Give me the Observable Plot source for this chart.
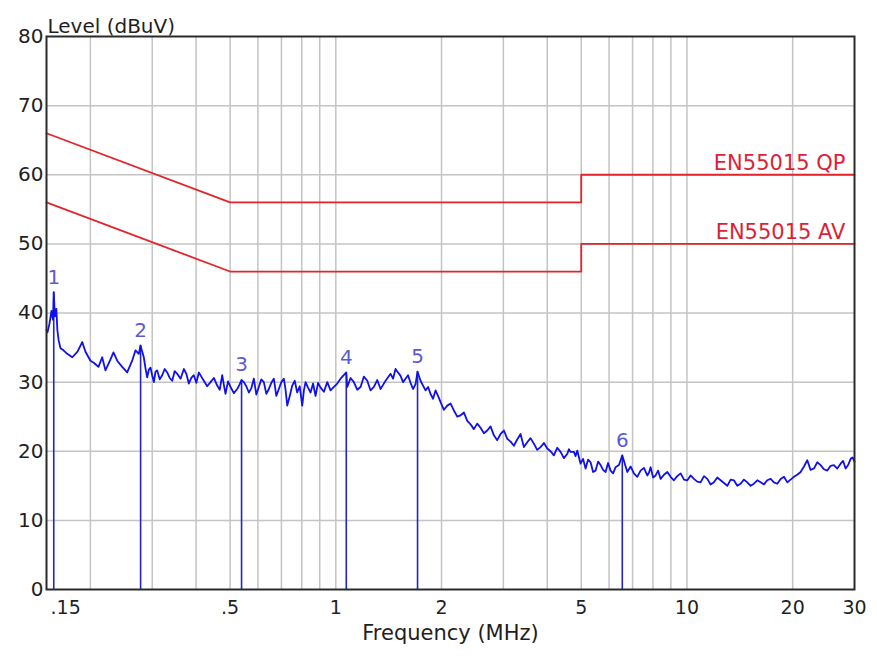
<!DOCTYPE html>
<html>
<head>
<meta charset="utf-8">
<script src="https://cdn.jsdelivr.net/npm/d3@7"></script>
<script src="https://cdn.jsdelivr.net/npm/@observablehq/plot@0.6"></script>
<style>
  html, body { margin: 0; padding: 0; background: #fff; }
  #chart { width: 877px; height: 656px; }
</style>
</head>
<body>
<div id="chart"></div>
<script>
// ---- Data ----
const yTicks = [0, 10, 20, 30, 40, 50, 60, 70, 80];
const xTickValues = [0.5, 1, 2, 5, 10, 20, 30];
const xTickLabels = [".5", "1", "2", "5", "10", "20", "30"];
const xFirstTick = [0.15];
const xFirstLabel = [".15"];
const gridFreqs = [0.2, 0.3, 0.4, 0.5, 0.6, 0.7, 0.8, 0.9, 1, 2, 3, 4, 5, 6, 7, 8, 9, 10, 20];

const limitFreq = [0.15, 0.5, 5, 5, 30];
const qpLevel = [66, 56, 56, 60, 60];
const avLevel = [56, 46, 46, 50, 50];
const limitNames = ["EN55015 QP", "EN55015 AV"];
const limitLabelLevel = [60, 50];

const markerIds = ["1", "2", "3", "4", "5", "6"];
const markerFreq = [0.1573, 0.278, 0.539, 1.071, 1.709, 6.544];
const markerLevel = [43.0, 35.3, 30.3, 31.4, 31.5, 19.4];

// main readings of the measured trace
const traceFreq = [
  0.150, 0.151, 0.153, 0.155, 0.1565, 0.1573, 0.1585, 0.160, 0.1611, 0.1625,
  0.1644, 0.1677, 0.1718, 0.1777, 0.1838, 0.1896, 0.1937, 0.2001, 0.2045, 0.2109,
  0.2161, 0.2208, 0.2282, 0.2327, 0.2385, 0.2464, 0.2546, 0.2631, 0.2689, 0.2748,
  0.2778, 0.2839, 0.2903, 0.2967, 0.3032, 0.3100, 0.3203, 0.3310, 0.3420, 0.3535,
  0.3692, 0.3814, 0.3941, 0.4073, 0.4208, 0.4397, 0.4595, 0.4748, 0.4851, 0.5014,
  0.5239, 0.539, 0.5471, 0.5653, 0.5841, 0.6036, 0.6237, 0.6446, 0.6660, 0.6882,
  0.7112, 0.7273, 0.7515, 0.7764, 0.8024, 0.8200, 0.8473, 0.8757, 0.9048, 0.9455,
  0.9873, 1.0317, 1.071, 1.0779, 1.1256, 1.1762, 1.2291, 1.2834, 1.3412, 1.3858,
  1.4321, 1.4794, 1.5290, 1.5798, 1.6323, 1.6869, 1.709, 1.7430, 1.8013, 1.8612,
  1.9231, 1.9875, 2.0769, 2.1689, 2.2661, 2.3679, 2.4723, 2.5834, 2.6997, 2.8190,
  2.9458, 3.0783, 3.2144, 3.3580, 3.5090, 3.6644, 3.8291, 4.0011, 4.1781, 4.3661,
  4.5614, 4.6612, 4.7643, 4.8710, 4.9776, 5.144, 5.315, 5.493, 5.676, 5.864,
  6.061, 6.262, 6.544, 6.762, 7.061, 7.378, 7.710, 7.879, 8.142, 8.413,
  8.792, 9.181, 9.594, 10.025, 10.468, 10.937, 11.429, 11.934, 12.470, 13.031,
  13.607, 14.216, 14.85, 15.51, 16.21, 16.93, 17.69, 18.48, 19.31, 20.16,
  21.07, 22.01, 22.99, 24.02, 25.10, 26.21, 27.39, 28.30, 29.25, 30.0
];
const traceLevel = [
  37.5, 37.2, 38.5, 40.3, 39.0, 43.0, 39.5, 40.6, 37.5, 36.0,
  34.9, 34.6, 34.1, 33.6, 34.4, 35.8, 34.4, 33.1, 32.8, 32.2,
  33.6, 31.7, 33.3, 34.3, 33.1, 32.2, 31.4, 33.1, 34.6, 34.1,
  35.3, 33.6, 30.7, 32.1, 30.0, 31.7, 31.0, 31.4, 30.2, 31.2,
  31.9, 29.8, 31.0, 31.4, 30.2, 30.0, 29.5, 31.0, 28.3, 29.3,
  29.0, 30.3, 30.0, 28.5, 30.5, 29.3, 30.0, 29.0, 30.5, 29.0,
  30.5, 26.6, 29.5, 28.5, 26.6, 30.0, 28.5, 28.0, 29.2, 30.0,
  29.3, 30.5, 31.4, 29.3, 30.0, 29.3, 30.2, 29.3, 29.0, 30.2,
  31.2, 31.9, 30.9, 30.5, 29.9, 29.7, 31.5, 30.2, 28.8, 28.3,
  28.8, 27.1, 26.6, 25.9, 25.2, 24.4, 23.2, 23.4, 23.0, 22.3,
  22.5, 21.8, 20.8, 22.5, 21.3, 21.1, 20.6, 20.4, 19.4, 19.9,
  19.6, 19.9, 19.9, 20.1, 18.2, 17.5, 18.4, 17.2, 18.0, 17.0,
  17.2, 17.7, 19.4, 17.0, 16.8, 17.2, 16.5, 17.7, 16.5, 16.0,
  17.0, 15.8, 16.8, 15.8, 16.0, 15.5, 16.0, 15.5, 15.8, 15.0,
  15.8, 15.3, 15.5, 15.3, 15.5, 15.8, 15.5, 16.0, 15.5, 16.3,
  17.0, 18.7, 17.5, 18.0, 17.2, 18.0, 18.2, 17.5, 18.9, 18.5
];

// extra readings of the trace's fine ripple, between the main readings
const rippleFreq = [
  0.2871, 0.2935, 0.2999, 0.3066, 0.3151, 0.3256, 0.3365, 0.3477, 0.3613, 0.3753,
  0.3877, 0.4006, 0.4140, 0.4302, 0.4495, 0.4671, 0.4799, 0.4932, 0.5125, 0.5314,
  0.5561, 0.5746, 0.5938, 0.6136, 0.6341, 0.6552, 0.6770, 0.6996, 0.7192, 0.7393,
  0.7638, 0.7893, 0.8112, 0.8335, 0.8614, 0.8901, 0.9249, 0.9662, 1.0093, 1.1015,
  1.1506, 1.2023, 1.2559, 1.3120, 1.3633, 1.4088, 1.4555, 1.5040, 1.5541, 1.6059,
  1.6594, 1.7719, 1.8310, 1.8919, 1.9551, 2.0317, 2.1224, 2.2170, 2.3165, 2.4195,
  2.5272, 2.6409, 2.7587, 2.8817, 3.0113, 3.1456, 3.2854, 3.4327, 3.5859, 3.7458,
  3.9142, 4.0886, 4.2711, 4.4627, 4.6111, 4.8174, 5.060, 5.229, 5.403, 5.584,
  5.769, 5.962, 6.161, 6.402, 6.910, 7.218, 7.542, 7.794, 8.009, 8.276,
  8.601, 8.984, 9.385, 9.807, 10.244, 10.700, 11.180, 11.679, 12.199, 12.748,
  13.316, 13.908, 14.53, 15.18, 15.86, 16.57, 17.31, 18.08, 18.89, 19.73,
  20.61, 21.54, 22.49, 23.50, 24.55, 25.65, 26.79, 27.84, 28.77, 29.62
];
const rippleLevel = [
  32.0, 31.8, 31.0, 31.5, 30.4, 31.9, 30.6, 31.6, 30.5, 31.2,
  30.6, 29.9, 30.8, 29.4, 30.6, 28.9, 29.6, 30.1, 28.4, 29.6,
  29.4, 29.1, 28.2, 30.4, 28.3, 29.9, 28.0, 30.0, 28.9, 28.0,
  30.2, 29.4, 28.8, 29.2, 29.8, 29.9, 28.6, 28.8, 29.8, 30.6,
  28.9, 30.8, 28.8, 30.3, 29.6, 30.7, 30.5, 31.4, 30.0, 31.0,
  29.0, 29.5, 29.3, 27.6, 28.0, 26.0, 26.9, 25.0, 25.6, 23.9,
  24.0, 22.6, 23.6, 21.6, 23.0, 21.4, 21.7, 20.6, 21.9, 20.2,
  21.2, 20.0, 20.5, 19.0, 20.3, 19.3, 18.9, 18.8, 17.0, 18.5,
  17.3, 18.3, 16.8, 18.0, 17.8, 16.3, 17.6, 16.9, 16.2, 17.2,
  16.6, 16.3, 16.4, 15.9, 16.5, 15.6, 16.4, 15.2, 16.2, 15.4,
  15.9, 15.0, 15.9, 15.0, 15.8, 15.2, 16.0, 15.3, 16.3, 15.9,
  16.6, 17.8, 17.3, 18.4, 17.4, 17.9, 17.5, 18.6, 18.0, 19.1
];

// ---- Tables built from the arrays ----
const trace = traceFreq.map((f, i) => ({f, v: traceLevel[i]}))
  .concat(rippleFreq.map((f, i) => ({f, v: rippleLevel[i]})))
  .sort((a, b) => a.f - b.f);
const qp = limitFreq.map((f, i) => ({f, v: qpLevel[i]}));
const av = limitFreq.map((f, i) => ({f, v: avLevel[i]}));
const markers = markerIds.map((id, i) => ({id, f: markerFreq[i], v: markerLevel[i]}));
const limitLabels = limitNames.map((n, i) => ({n, v: limitLabelLevel[i]}));

const FONT = "DejaVu Sans, Liberation Sans, Arial, sans-serif";
const RED = "#e3242b";
const INK = "#1f1f1f";

const chart = Plot.plot({
  width: 877,
  height: 656,
  marginLeft: 46,
  marginRight: 23,
  marginTop: 36,
  marginBottom: 67,
  style: {fontFamily: FONT, fontSize: "20px", background: "#fff", color: INK},
  x: {type: "log", domain: [0.15, 30]},
  y: {domain: [0, 80]},
  marks: [
    Plot.gridX(gridFreqs, {stroke: "#c4c4c4", strokeOpacity: 1, strokeWidth: 1.5}),
    Plot.gridY(yTicks.slice(1, -1), {stroke: "#c4c4c4", strokeOpacity: 1, strokeWidth: 1.5}),
    Plot.axisY(yTicks, {tickSize: 0, tickPadding: 3, fontSize: 20, fill: INK, label: null}),
    Plot.axisX(xTickValues, {tickSize: 0, tickPadding: 11, fontSize: 19, fill: INK,
      tickFormat: (d) => xTickLabels[xTickValues.indexOf(d)], label: null}),
    Plot.axisX(xFirstTick, {tickSize: 0, tickPadding: 11, fontSize: 19, fill: INK,
      textAnchor: "start", dx: 4, tickFormat: (d) => xFirstLabel[xFirstTick.indexOf(d)], label: null}),
    Plot.line(qp, {x: "f", y: "v", stroke: RED, strokeWidth: 1.8}),
    Plot.line(av, {x: "f", y: "v", stroke: RED, strokeWidth: 1.8}),
    Plot.text(limitLabels, {frameAnchor: "right", y: "v", text: "n", textAnchor: "end",
      lineAnchor: "bottom", dx: -9, dy: -5, fill: "#dc1f36", fontSize: 21}),
    Plot.ruleX(markers, {x: "f", y1: 0, y2: "v", stroke: "#2424c8", strokeWidth: 1.6}),
    Plot.line(trace, {x: "f", y: "v", stroke: "#1010ea", strokeWidth: 1.8, strokeLinejoin: "round"}),
    Plot.text(markers, {x: "f", y: "v", text: "id", dy: -15, fill: "#5b5bd6", fontSize: 20}),
    Plot.frame({stroke: "#2a2a2a", strokeWidth: 2}),
    Plot.text(["Level (dBuV)"], {frameAnchor: "top-left", textAnchor: "start", dx: 1, dy: -18,
      fill: INK, fontSize: 20}),
    Plot.text(["Frequency (MHz)"], {frameAnchor: "bottom", dy: 50, fill: INK, fontSize: 21})
  ]
});
document.getElementById("chart").appendChild(chart);
</script>
</body>
</html>
